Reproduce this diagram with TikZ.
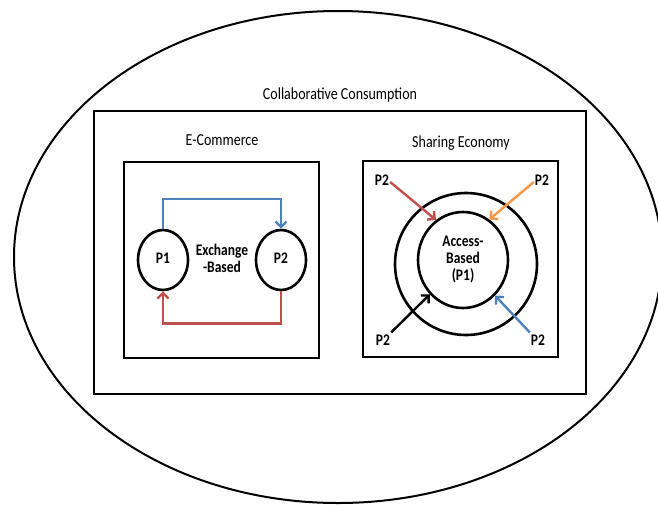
\documentclass[tikz,border=0pt]{standalone}
\usepackage{fontspec}
\setmainfont{Carlito}
\usepackage{graphicx}
\usetikzlibrary{shapes.geometric,arrows.meta}
\definecolor{flowblue}{HTML}{4F81BD}
\definecolor{flowred}{HTML}{C0504D}
\definecolor{floworange}{HTML}{F79646}
% text set slightly taller than wide
\newcommand\tallbox[1]{\scalebox{1}[1.2]{\begin{tabular}{@{}c@{}}#1\end{tabular}}}
\begin{document}
\begin{tikzpicture}[x=1pt,y=-1pt,
  every node/.style={font=\fontsize{14}{14}\selectfont, inner sep=1pt},
  inner/.style={font=\fontsize{13.5}{14}\selectfont\bfseries},
  frame/.style={draw, line width=2.6pt, rectangle, minimum width=195pt, minimum height=196pt},
  party/.style={draw, line width=2.6pt, ellipse, minimum width=50pt, minimum height=60pt},
  flow/.style={line width=2.4pt, -{Straight Barb[length=5.5pt,width=11pt]}},
]
\useasboundingbox (0,0) rectangle (658,504);

% outer ellipse
\draw[line width=2pt] (338,257) ellipse [x radius=324, y radius=246];

% collaborative consumption frame
\node[draw, line width=2.6pt, minimum width=492pt, minimum height=283pt] (cc) at (340,252.5) {};
\node (cctitle) at (340,96) {\tallbox{Collaborative Consumption}};

% e-commerce
\node (ectitle) at (222,142) {\tallbox{E-Commerce}};
\node[frame] (ec) at (221.5,260) {};
\node[party, inner] (p1) at (163,260) {\tallbox{P1}};
\node[party, inner] (p2) at (281,260) {\tallbox{P2}};
\node[inner] (exch) at (222,261) {\tallbox{Exchange\\-Based}};
\draw[flow, flowblue] (p1.north) -- ++(0,-30) -| (p2.north);
\draw[flow, flowred] (p2.south) -- ++(0,32) -| (p1.south);

% sharing economy
\node (setitle) at (461,144) {\tallbox{Sharing Economy}};
\node[frame] (se) at (460.5,259) {};
\node[draw, line width=2.6pt, circle, minimum size=142pt] (ring) at (466,264) {};
\node[draw, line width=2.6pt, ellipse, minimum width=90pt, minimum height=96pt, inner] (core) at (463,260) {\tallbox{Access-\\Based\\(P1)}};

\node[inner] (tl) at (382,182) {\tallbox{P2}};
\node[inner] (tr) at (542,182) {\tallbox{P2}};
\node[inner] (bl) at (383,342) {\tallbox{P2}};
\node[inner] (br) at (538,342) {\tallbox{P2}};

\draw[flow, flowred] (tl.east) -- (core.124);
\draw[flow, floworange] (tr.west) -- (core.57);
\draw[flow, black] (bl.north east) -- (core.226);
\draw[flow, flowblue] (br.north west) -- (core.312);
\end{tikzpicture}
\end{document}
